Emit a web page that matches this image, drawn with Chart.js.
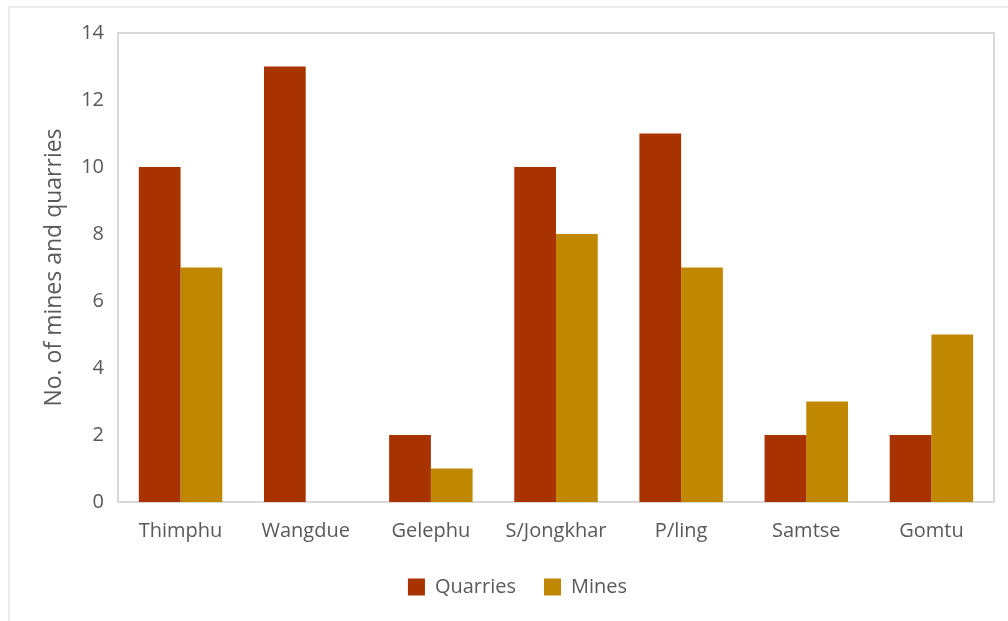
<!DOCTYPE html>
<html>
<head>
<meta charset="utf-8">
<script src="https://cdn.jsdelivr.net/npm/chart.js@4/dist/chart.umd.min.js"></script>
<style>
  html, body { margin: 0; padding: 0; background: #fff; }
  #wrap { position: relative; width: 1008px; height: 621px; overflow: hidden; }
  #frame { position: absolute; left: 8px; top: 6px; width: 1100px; height: 700px; border: 2px solid #ececec; box-sizing: border-box; }
  #c { position: absolute; left: 0; top: 0; }
</style>
</head>
<body>
<div id="wrap">
  <div id="frame"></div>
  <canvas id="c" width="1008" height="621"></canvas>
</div>
<script>
const districts = ['Thimphu', 'Wangdue', 'Gelephu', 'S/Jongkhar', 'P/ling', 'Samtse', 'Gomtu'];
const quarries = [10, 13, 2, 10, 11, 2, 2];
const mines = [7, 0, 1, 8, 7, 3, 5];
const yTicks = [0, 2, 4, 6, 8, 10, 12, 14];

const textColor = '#595959';
const fontFamily = '"Open Sans", "Noto Sans", sans-serif';

// Outline the plotting area like a boxed plot frame
const plotBox = {
  id: 'plotBox',
  beforeDatasetsDraw(chart) {
    const { ctx, chartArea: a } = chart;
    ctx.save();
    ctx.strokeStyle = '#d9d9d9';
    ctx.lineWidth = 2;
    ctx.strokeRect(a.left, a.top, a.right - a.left, a.bottom - a.top);
    ctx.restore();
  }
};

new Chart(document.getElementById('c'), {
  type: 'bar',
  data: {
    labels: districts,
    datasets: [
      { label: 'Quarries', data: quarries, backgroundColor: '#A83300' },
      { label: 'Mines', data: mines, backgroundColor: '#C08800' }
    ]
  },
  options: {
    responsive: false,
    animation: false,
    devicePixelRatio: 1,
    layout: { padding: { left: 41, top: 33, right: 14, bottom: 14 } },
    datasets: { bar: { categoryPercentage: 0.667, barPercentage: 1.0 } },
    scales: {
      x: {
        grid: { display: false, drawTicks: false },
        border: { display: false },
        ticks: { color: textColor, font: { family: fontFamily, size: 20 }, padding: 17 },
        afterFit(scale) { scale.height = 47; }
      },
      y: {
        min: 0, max: 14,
        afterBuildTicks(scale) { scale.ticks = yTicks.map(v => ({ value: v })); },
        grid: { display: false, drawTicks: false },
        border: { display: false },
        ticks: { color: textColor, font: { family: fontFamily, size: 20 }, padding: 14 },
        title: { display: true, text: 'No. of mines and quarries', color: textColor, font: { family: fontFamily, size: 23 }, padding: { top: 0, bottom: 0 } },
        afterFit(scale) { scale.width = 77; }
      }
    },
    plugins: {
      legend: {
        position: 'bottom',
        labels: { color: textColor, font: { family: fontFamily, size: 20 }, boxWidth: 17, boxHeight: 17, padding: 28 }
      },
      tooltip: { enabled: false }
    }
  },
  plugins: [plotBox]
});
</script>
</body>
</html>
